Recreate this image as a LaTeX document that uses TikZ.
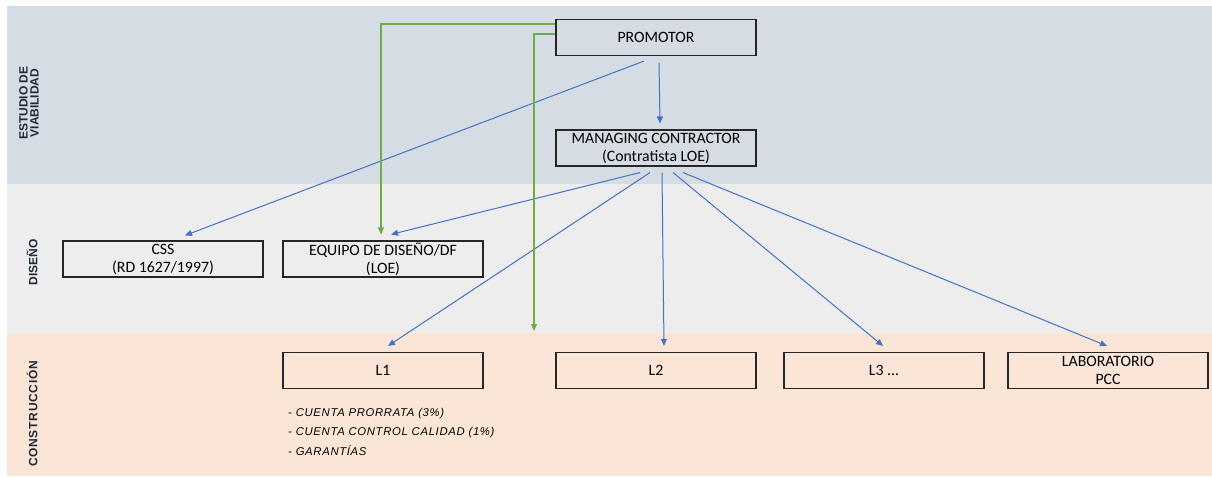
\documentclass[tikz,border=0pt]{standalone}
\usepackage{fontspec}
\setmainfont{Carlito}
\newfontfamily\labfont{Liberation Sans}
\newfontfamily\labfontwide[LetterSpace=6]{Liberation Sans}
\newfontfamily\notefont[LetterSpace=6]{Liberation Sans}
\usetikzlibrary{arrows.meta}
\definecolor{bandA}{HTML}{D6DCE4}
\definecolor{bandB}{HTML}{EDEDED}
\definecolor{bandC}{HTML}{FBE5D6}
\definecolor{arrblue}{HTML}{4472C4}
\definecolor{arrgreen}{HTML}{70AD47}
\definecolor{boxline}{HTML}{262626}
\definecolor{labcol}{HTML}{222A35}
\tikzset{
  box/.style={draw=boxline, line width=1.1pt, minimum width=200pt, minimum height=36pt,
    inner sep=0pt, align=center, font=\fontsize{15.8}{18}\selectfont},
  barrow/.style={draw=arrblue, line width=1pt, -{Triangle[length=7pt,width=6pt]}},
  garrow/.style={draw=arrgreen, line width=1.1pt, -{Triangle[length=7pt,width=6pt]}},
  phase/.style={rotate=90, text=labcol, align=center, font=\labfont\bfseries\fontsize{12}{11}\selectfont},
}
\begin{document}
\begin{tikzpicture}[x=1pt,y=-1pt]
\useasboundingbox (0,0) rectangle (1212,477);
\fill[white] (0,0) rectangle (1212,477);
\fill[bandA] (7,6) rectangle (1212,184);
\fill[bandB] (7,184) rectangle (1212,333);
\fill[bandC] (7,333) rectangle (1212,476);

\node[phase] (p1) at (29,103) {ESTUDIO DE\\VIABILIDAD};
\node[phase] (p2) at (32,262) {DISEÑO};
\node[phase, font=\labfontwide\bfseries\fontsize{12}{11}\selectfont] (p3) at (32,414) {CONSTRUCCIÓN};

\node[box] (prom) at (656,37.5) {PROMOTOR};
\node[box] (mc) at (656,148) {MANAGING CONTRACTOR\\(Contratista LOE)};
\node[box] (css) at (163,259) {CSS\\(RD 1627/1997)};
\node[box] (eq) at (383,259) {EQUIPO DE DISEÑO/DF\\(LOE)};
\node[box] (l1) at (383,370.5) {L1};
\node[box] (l2) at (656,370.5) {L2};
\node[box] (l3) at (884,370.5) {L3 ...};
\node[box] (lab) at (1108,370.5) {LABORATORIO\\PCC};

\node[anchor=north west, align=left, inner sep=0pt, font=\notefont\itshape\fontsize{11.3}{19.5}\selectfont] (notes) at (288,408)
  {- CUENTA PRORRATA (3\%)\\- CUENTA CONTROL CALIDAD (1\%)\\- GARANTÍAS};

\coordinate (g2end) at (534,331);

\draw[barrow] ([shift={(3,7)}]prom.south) -- ([shift={(4,-6)}]mc.north);
\draw[barrow] ([shift={(-12,5)}]prom.south) -- ([shift={(22,-5)}]css.north);
\draw[barrow] ([shift={(-16,6)}]mc.south) -- ([shift={(8,-6)}]eq.north);
\draw[barrow] ([shift={(-6,6)}]mc.south) -- ([shift={(5,-6)}]l1.north);
\draw[barrow] ([shift={(6,6)}]mc.south) -- ([shift={(8,-6)}]l2.north);
\draw[barrow] ([shift={(17,6)}]mc.south) -- ([shift={(-1,-6)}]l3.north);
\draw[barrow] ([shift={(27,6)}]mc.south) -- ([shift={(-1,-6)}]lab.north);

\draw[garrow] ([shift={(0,5)}]prom.north west) -| ([shift={(-2,-6)}]eq.north);
\draw[garrow] ([shift={(0,15)}]prom.north west) -| (g2end);
\end{tikzpicture}
\end{document}
